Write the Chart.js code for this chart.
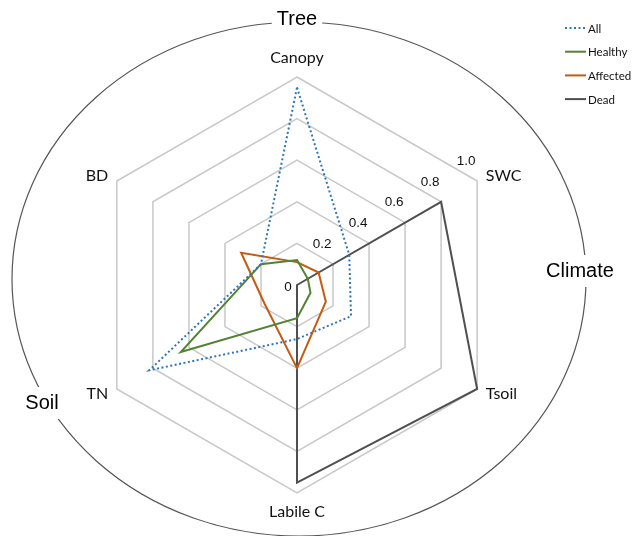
<!DOCTYPE html>
<html>
<head>
<meta charset="utf-8">
<script src="https://cdn.jsdelivr.net/npm/chart.js@4.4.0/dist/chart.umd.min.js"></script>
<style>
  html, body { margin: 0; padding: 0; background: #fff; }
  #wrap { width: 641px; height: 536px; position: relative; }
</style>
</head>
<body>
<div id="wrap"><canvas id="radarChart"></canvas></div>
<script>
// axes, clockwise from the top
const axes = ['Canopy', 'SWC', 'Tsoil', 'Labile C', 'TN', 'BD'];

// values (0 - 1 scale)
const allValues      = [0.95, 0.29, 0.30, 0.26, 0.82, 0.20];
const healthyValues  = [0.12, 0.06, 0.075, 0.16, 0.645, 0.20];
const affectedValues = [0.11, 0.12, 0.16, 0.40, 0.18, 0.31];
const deadValues     = [0, 0.80, 1.0, 0.95, 0, 0];

const seriesNames = ['All', 'Healthy', 'Affected', 'Dead'];
const tickValues = [0, 0.2, 0.4, 0.6, 0.8, 1.0];
const tickLabels = ['0', '0.2', '0.4', '0.6', '0.8', '1.0'];
const groupLabels = ['Tree', 'Climate', 'Soil'];

// tick labels run along the SWC spoke, upright
const tickPlugin = {
  id: 'swcTicks',
  afterDatasetsDraw(chart) {
    const scale = chart.scales.r;
    const ctx = chart.ctx;
    ctx.save();
    ctx.font = '13.5px "Liberation Sans", Arial, sans-serif';
    ctx.fillStyle = '#111';
    ctx.textAlign = 'center';
    ctx.textBaseline = 'middle';
    tickValues.forEach((v, i) => {
      const p = scale.getPointPositionForValue(1, v);
      if (v === 0) {
        ctx.fillText(tickLabels[i], p.x - 9, p.y + 2);
      } else {
        ctx.fillText(tickLabels[i], p.x - 11, p.y - 20);
      }
    });
    ctx.restore();
  }
};

// outer ring with the group names, and the legend
const decorPlugin = {
  id: 'decor',
  afterDraw(chart) {
    const ctx = chart.ctx;
    ctx.save();
    ctx.beginPath();
    ctx.ellipse(299, 279, 287, 257, 0, 0, Math.PI * 2);
    ctx.strokeStyle = '#555';
    ctx.lineWidth = 1.2;
    ctx.stroke();

    ctx.font = '20px "Liberation Sans", Arial, sans-serif';
    ctx.textAlign = 'center';
    ctx.textBaseline = 'middle';
    const spots = [
      {x: 297, y: 19},
      {x: 580, y: 271},
      {x: 42, y: 403}
    ];
    groupLabels.forEach((g, i) => {
      const w = ctx.measureText(g).width;
      ctx.fillStyle = '#fff';
      ctx.fillRect(spots[i].x - w / 2 - 5, spots[i].y - 16, w + 10, 32);
      ctx.fillStyle = '#000';
      ctx.fillText(g, spots[i].x, spots[i].y);
    });

    // legend
    ctx.font = '11.5px Lato, sans-serif';
    ctx.textAlign = 'left';
    chart.data.datasets.forEach((ds, i) => {
      const y = 28 + i * 23.7;
      ctx.beginPath();
      ctx.setLineDash(ds.borderDash || []);
      ctx.strokeStyle = ds.borderColor;
      ctx.lineWidth = ds.borderWidth;
      ctx.moveTo(565, y);
      ctx.lineTo(586, y);
      ctx.stroke();
      ctx.setLineDash([]);
      ctx.fillStyle = '#111';
      ctx.fillText(ds.label, 588, y + 1);
    });
    ctx.restore();
  }
};

const ctx = document.getElementById('radarChart').getContext('2d');

new Chart(ctx, {
  type: 'radar',
  data: {
    labels: axes,
    datasets: [
      { label: seriesNames[0], data: allValues, borderColor: '#2e75b6', borderWidth: 2, borderDash: [2, 2.5] },
      { label: seriesNames[1], data: healthyValues, borderColor: '#548235', borderWidth: 2 },
      { label: seriesNames[2], data: affectedValues, borderColor: '#c55a11', borderWidth: 2 },
      { label: seriesNames[3], data: deadValues, borderColor: '#4f4f4f', borderWidth: 2 }
    ]
  },
  options: {
    responsive: true,
    maintainAspectRatio: false,
    animation: false,
    layout: { padding: { left: 47, right: 94, top: 58, bottom: 24 } },
    elements: {
      line: { fill: false, tension: 0, backgroundColor: 'transparent', borderJoinStyle: 'miter' },
      point: { radius: 0, hoverRadius: 0 }
    },
    plugins: {
      legend: { display: false },
      tooltip: { enabled: false }
    },
    scales: {
      r: {
        min: 0,
        max: 1,
        ticks: { display: false, stepSize: 0.2 },
        grid: { color: '#c8c8c8', lineWidth: 1.5 },
        angleLines: { display: false },
        pointLabels: {
          color: '#111',
          font: { family: 'Lato', size: 16, lineHeight: 0 },
          padding: c => (c.index === 0 || c.index === 3) ? 19 : 10
        }
      }
    }
  },
  plugins: [tickPlugin, decorPlugin]
});
</script>
</body>
</html>
